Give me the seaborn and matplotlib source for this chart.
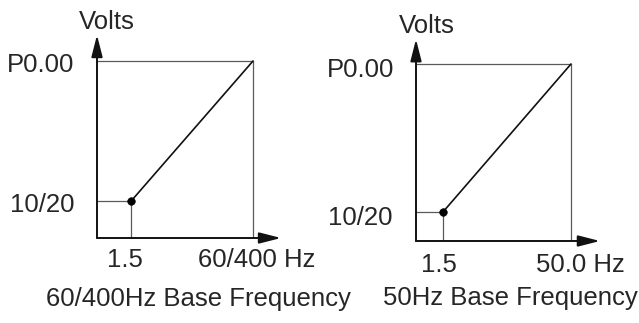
"""
Curvas V/f (tensión vs frecuencia) para las dos frecuencias base: 60/400 Hz y 50 Hz.
Diagrama esquemático: ejes en unidades normalizadas, etiquetas como texto.
"""

import pandas as pd
import matplotlib.pyplot as plt
import seaborn as sns

sns.set_theme(style="white")
plt.rcParams["font.family"] = ["Liberation Sans", "DejaVu Sans"]

# datos (unidades esquemáticas)
paneles = ["60/400Hz Base Frequency", "50Hz Base Frequency"]
freq_knee = [0.22, 0.175]      # posición del punto 1.5 Hz
volt_knee = [0.21, 0.165]      # posición del punto 10/20
freq_base = [1.0, 1.0]
volt_max = [1.0, 1.0]
xtick_labels = [["1.5", "60/400 Hz"], ["1.5", "50.0 Hz"]]
ytick_labels = ["10/20", "P0.00"]

fig = plt.figure(figsize=(6.39, 3.23), dpi=100)
W, H = 639, 323
# origen (px) y tamaño de la unidad (px) de cada panel
origenes = [(97, 238), (416, 241)]
unidad = [(156, 177), (155, 177)]
# desplazamientos de texto en px (dx, dy hacia arriba)
off = [
    dict(ymax=(-23, -4), yknee=(-23, -4), xknee=(-6, -22), xbase=(4, -22),
         volts=(10, 216), titulo=(101, -61)),
    dict(ymax=(-22, -6), yknee=(-24, -6), xknee=(-4, -24), xbase=(9, -24),
         volts=(11, 215), titulo=(94, -57)),
]
punta = [(1.18, 1.147), (1.187, 1.14)]

fs = 18.5
for i in range(2):
    ox, oy = origenes[i]
    ux, uy = unidad[i]
    ax = fig.add_axes([ox / W, (H - oy) / H, ux * 1.22 / W, uy * 1.22 / H])

    df = pd.DataFrame({
        "f": [freq_knee[i], freq_base[i]],
        "v": [volt_knee[i], volt_max[i]],
    })
    # líneas guía grises
    g = "#5a5a5a"
    ax.plot([0, freq_base[i]], [volt_max[i]] * 2, color=g, lw=0.9)
    ax.plot([freq_base[i]] * 2, [0, volt_max[i]], color=g, lw=0.9)
    ax.plot([0, freq_knee[i]], [volt_knee[i]] * 2, color=g, lw=0.9)
    ax.plot([freq_knee[i]] * 2, [0, volt_knee[i]], color=g, lw=0.9)
    # curva V/f
    sns.lineplot(data=df, x="f", y="v", color="#111111", lw=1.2, ax=ax)
    sns.scatterplot(data=df.iloc[:1], x="f", y="v", color="black", s=30,
                    edgecolor="black", ax=ax, zorder=5)
    ax.set_xlim(0, 1.22)
    ax.set_ylim(0, 1.22)
    ax.axis("off")

    # ejes con flecha
    estilo = dict(arrowstyle="-|>,head_length=1.1,head_width=0.28",
                  color="#111111", lw=1.4, shrinkA=0, shrinkB=0)
    ax.annotate("", xy=(punta[i][0], 0), xytext=(0, 0), arrowprops=estilo)
    ax.annotate("", xy=(0, punta[i][1]), xytext=(0, 0), arrowprops=estilo)

    o = off[i]
    kw = dict(textcoords="offset pixels", fontsize=fs, annotation_clip=False)
    ax.annotate(ytick_labels[1], xy=(0, volt_max[i]), xytext=o["ymax"],
                ha="right", va="center", **kw)
    ax.annotate(ytick_labels[0], xy=(0, volt_knee[i]), xytext=o["yknee"],
                ha="right", va="center", **kw)
    ax.annotate(xtick_labels[i][0], xy=(freq_knee[i], 0), xytext=o["xknee"],
                ha="center", va="center", **kw)
    ax.annotate(xtick_labels[i][1], xy=(freq_base[i], 0), xytext=o["xbase"],
                ha="center", va="center", **kw)
    ax.annotate("Volts", xy=(0, 0), xytext=o["volts"], ha="center", va="center", **kw)
    ax.annotate(paneles[i], xy=(0, 0), xytext=o["titulo"], ha="center", va="center", **kw)

fig.savefig("out.png", dpi=100)
